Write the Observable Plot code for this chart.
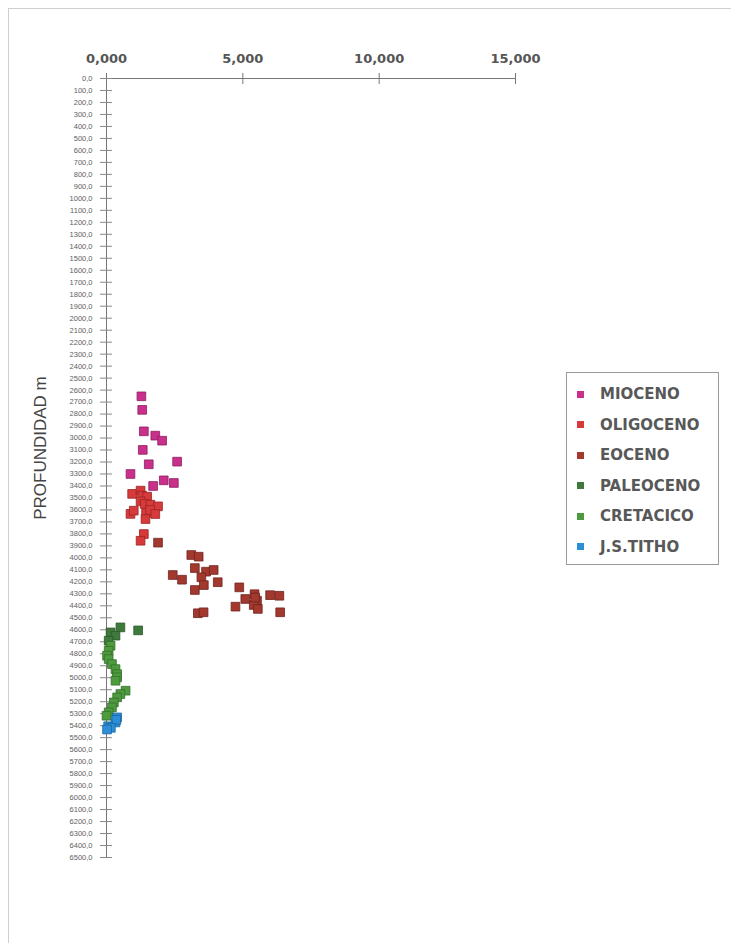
<!DOCTYPE html>
<html>
<head>
<meta charset="utf-8">
<script src="https://cdn.jsdelivr.net/npm/d3@7"></script>
<script src="https://cdn.jsdelivr.net/npm/@observablehq/plot@0.6"></script>
<style>
  html, body { margin: 0; padding: 0; background: #fff; }
  #wrap { position: relative; width: 731px; height: 943px; overflow: hidden; }
  #frame { position: absolute; left: 8px; top: 8px; width: 740px; height: 960px; border-top: 1px solid #cfcfcf; border-left: 1px solid #cfcfcf; }
  #legend { position: absolute; left: 566px; top: 372px; width: 153px; height: 193px; border: 1px solid #9a9a9a; box-sizing: border-box; font-family: "DejaVu Sans", sans-serif; font-weight: bold; font-size: 15px; color: #585858; }
  .item { position: absolute; left: 10px; height: 16px; display: flex; align-items: center; }
  .sw { width: 7px; height: 7px; margin-right: 16px; }
</style>
</head>
<body>
<div id="wrap">
  <div id="frame"></div>
  <div id="chart"></div>
  <div id="legend"></div>
</div>
<script>
// Series names and colours
const series = ["MIOCENO", "OLIGOCENO", "EOCENO", "PALEOCENO", "CRETACICO", "J.S.TITHO"];
const colors = ["#c8308c", "#d63a3a", "#a3382f", "#3f7a3c", "#4e9a3e", "#2b8fd8"];
const strokes = ["#8e1e60", "#9a2424", "#6e2420", "#2a5528", "#33702a", "#1a64a0"];

// Values: [x value, depth m]
const mioceno = [[1.28,2652],[1.31,2765],[1.37,2944],[1.79,2980],[2.04,3022],[1.33,3099],[1.55,3219],[2.59,3197],[0.88,3300],[1.71,3400],[2.10,3353],[2.47,3375]];
const oligoceno = [[0.94,3466],[1.25,3439],[1.31,3481],[1.49,3489],[1.25,3528],[1.40,3550],[1.61,3556],[1.89,3570],[0.88,3633],[1.00,3606],[1.45,3625],[1.60,3600],[1.79,3634],[1.43,3676],[1.37,3801],[1.25,3857]];
const eoceno = [[1.89,3873],[3.11,3976],[3.38,3990],[3.24,4085],[3.65,4115],[3.93,4101],[3.48,4162],[2.43,4143],[2.77,4182],[3.57,4227],[4.08,4203],[3.24,4268],[4.87,4246],[5.09,4343],[5.43,4303],[5.52,4357],[5.40,4393],[5.55,4426],[4.73,4407],[6.00,4311],[6.34,4316],[6.37,4454],[3.35,4462],[3.56,4454],[5.45,4330]];
const paleoceno = [[0.51,4580],[1.16,4605],[0.15,4622],[0.33,4649],[0.08,4691]];
const cretacico = [[0.15,4733],[0.08,4775],[0.02,4816],[0.08,4844],[0.20,4886],[0.33,4928],[0.39,4970],[0.39,4997],[0.33,5025],[0.70,5108],[0.51,5136],[0.39,5164],[0.27,5206],[0.20,5247],[0.08,5289],[0.00,5317]];
const titho = [[0.39,5331],[0.33,5373],[0.36,5352],[0.06,5405],[0.16,5418],[0.02,5432]];

// Tick values
const xTicks = [0, 5, 10, 15];
const depthTicks = d3.range(0, 6501, 100);

const groups = [mioceno, oligoceno, eoceno, paleoceno, cretacico, titho];
const points = groups.flatMap((g, i) => g.map(([v, d]) => ({serie: series[i], v, d, idx: i})));

const fmtX = d => d.toFixed(3).replace(".", ",");
const fmtY = d => d.toFixed(1).replace(".", ",");

const chart = Plot.plot({
  width: 731,
  height: 943,
  marginTop: 78,
  marginLeft: 106,
  marginRight: 216,
  marginBottom: 86,
  style: {background: "transparent", fontFamily: "'Liberation Sans', Arial, sans-serif"},
  x: {domain: [0, 15]},
  y: {domain: [0, 6500], reverse: true},
  marks: [
    Plot.axisX({anchor: "top", ticks: xTicks, tickFormat: fmtX, tickSize: 0, tickPadding: 16, fontSize: 13, fontWeight: "bold", color: "#555", fontFamily: "'DejaVu Sans', sans-serif", label: null}),
    Plot.axisY({anchor: "left", ticks: depthTicks, tickFormat: fmtY, tickSize: 0, tickPadding: 14, fontSize: 7.5, color: "#5e5e5e", label: null}),
    Plot.ruleY([0], {x1: 0, x2: 15, stroke: "#777", strokeWidth: 1}),
    Plot.ruleX([0], {y1: 0, y2: 6500, stroke: "#777", strokeWidth: 1}),
    Plot.ruleX(xTicks, {x: d => d, y1: -42, y2: 50, stroke: "#777"}),
    Plot.ruleY(depthTicks, {y: d => d, x1: -0.22, x2: 0.22, stroke: "#888"}),
    Plot.dot(points, {x: "v", y: "d", symbol: "square", r: 4.9, fill: d => colors[d.idx], stroke: d => strokes[d.idx], strokeWidth: 0.8}),
    Plot.text(["PROFUNDIDAD m"], {frameAnchor: "left", textAnchor: "middle", dx: -66, dy: -20, rotate: -90, fontSize: 17, fill: "#444", fontFamily: "'Liberation Sans', Arial, sans-serif"})
  ]
});
document.getElementById("chart").appendChild(chart);

const legend = document.getElementById("legend");
series.forEach((s, i) => {
  const it = document.createElement("div");
  it.className = "item";
  it.style.top = (13 + i * 30.5) + "px";
  const sw = document.createElement("span");
  sw.className = "sw";
  sw.style.background = colors[i];
  const tx = document.createElement("span");
  tx.textContent = s;
  it.appendChild(sw);
  it.appendChild(tx);
  legend.appendChild(it);
});
</script>
</body>
</html>
